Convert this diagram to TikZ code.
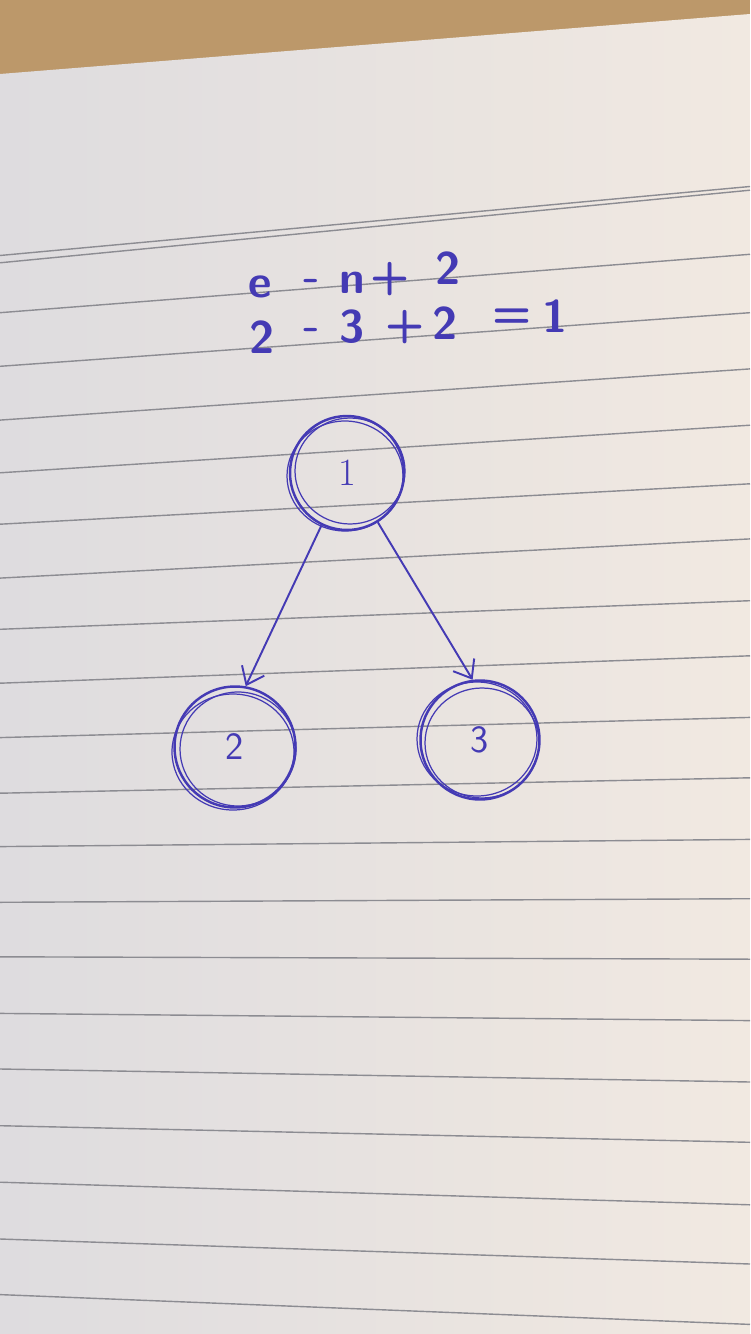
\documentclass[tikz,border=0pt]{standalone}
\usetikzlibrary{arrows.meta}
\definecolor{ink}{RGB}{68,58,180}
\definecolor{wood}{RGB}{188,152,106}
\definecolor{paperL}{RGB}{222,220,223}
\definecolor{paperR}{RGB}{241,233,225}
\definecolor{rulec}{RGB}{140,140,146}
\begin{document}
\begin{tikzpicture}[x=0.02cm,y=-0.02cm,
  tok/.style={text=ink, font=\sffamily\bfseries\fontsize{26}{30}\selectfont, inner sep=0pt},
  vert/.style={circle, draw=ink, line width=1.4pt, text=ink, font=\sffamily\fontsize{22}{26}\selectfont, inner sep=0pt},
  sketch/.style={draw=ink, line width=0.7pt},
  edgearrow/.style={ink, line width=1.1pt, -{Straight Barb[length=9pt,width=14pt]}},
  rulel/.style={draw=rulec, line width=0.8pt}]
\useasboundingbox (0,0) rectangle (750,1334);
% background: desk and paper
\fill[wood] (0,0) rectangle (750,80);
\shade[left color=paperL, right color=paperR] (0,74) -- (750,14) -- (750,1334) -- (0,1334) -- cycle;
% ruled lines
\draw[rulel] (0,255.5) -- (750,186.5);
\draw[rulel] (0,262.8) -- (750,190.2);
\foreach \a/\b in {312.7/254.3, 366.3/312.7, 420.1/368.9, 472.8/425.2, 524.2/483.8,
  578.1/538.9, 629.3/600.7, 683.2/655.8, 737.6/717.4, 793.2/777.8, 846.6/839.4,
  902.3/898.7, 956.8/959.2, 1013.4/1020.6, 1069/1082, 1125.7/1142.3,
  1182.2/1204.8, 1239/1264, 1294.6/1324.4}
  \draw[rulel] (0,\a) -- (750,\b);
% formula line 1: e - n + 2
\node[tok] (fa1) at (260,287) {e};
\node[tok] (fa2) at (312,285) {-};
\node[tok] (fa3) at (352,283) {n};
\node[tok] (fa4) at (390,279) {+};
\node[tok] (fa5) at (448,268) {2};
% formula line 2: 2 - 3 + 2 = 1
\node[tok] (fb1) at (262,337) {2};
\node[tok] (fb2) at (312,334) {-};
\node[tok] (fb3) at (352,327) {3};
\node[tok] (fb4) at (405,327) {+};
\node[tok] (fb5) at (445,323) {2};
\node[tok] (fb6) at (512,318) {=};
\node[tok] (fb7) at (555,316) {1};
% graph nodes
\node[vert, minimum size=2.28cm] (n1) at (347,473) {\rmfamily 1};
\node[vert, minimum size=2.42cm] (n2) at (235,747) {2};
\node[vert, minimum size=2.38cm] (n3) at (480,740) {3};
% sketchy re-traced strokes
\draw[sketch] ([shift={(3,-2)}]n1.center) circle [x radius=55, y radius=53];
\draw[sketch] ([shift={(-2,3)}]n1.center) circle [x radius=58, y radius=55];
\draw[sketch] ([shift={(3,2)}]n2.center) circle [x radius=58, y radius=57];
\draw[sketch] ([shift={(-2,5)}]n2.center) circle [x radius=61, y radius=58];
\draw[sketch] ([shift={(2,3)}]n3.center) circle [x radius=57, y radius=55];
\draw[sketch] ([shift={(-3,-1)}]n3.center) circle [x radius=60, y radius=57];
% connectors
\draw[edgearrow] (n1.-116) -- (n2.80);
\draw[edgearrow] (n1.-58) -- (n3.97);
\end{tikzpicture}
\end{document}
